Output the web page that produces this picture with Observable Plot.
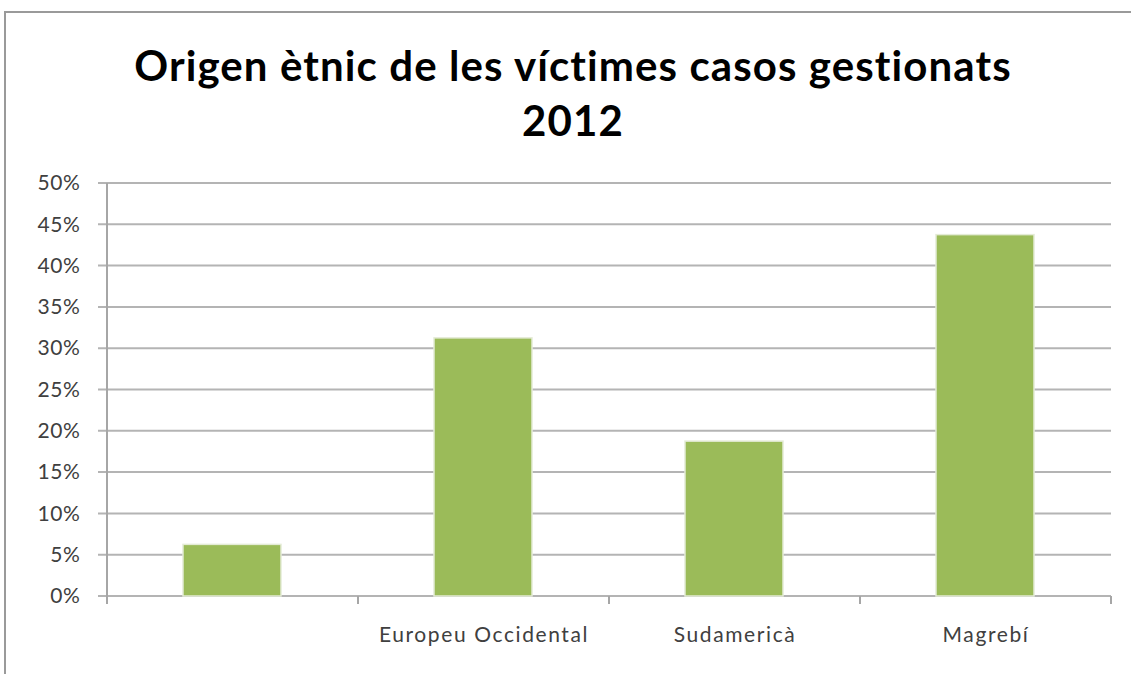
<!DOCTYPE html>
<html>
<head>
<meta charset="utf-8">
<script src="https://cdn.jsdelivr.net/npm/d3@7"></script>
<script src="https://cdn.jsdelivr.net/npm/@observablehq/plot@0.6"></script>
<style>
  html, body { margin: 0; padding: 0; background: #fff; }
  #frame {
    position: relative; width: 1131px; height: 674px; overflow: hidden; background: #fff;
  }
  #border {
    position: absolute; left: 4px; top: 11px; width: 1140px; height: 700px;
    border-left: 2px solid #9a9a9a; border-top: 2px solid #9a9a9a; box-sizing: border-box;
  }
  #title {
    position: absolute; left: 0; top: 38px; width: 1146px; text-align: center;
    font-family: Lato, "Open Sans", sans-serif; font-weight: bold; font-size: 42px;
    letter-spacing: 1.1px; line-height: 55px; color: #000;
  }
  #chart { position: absolute; left: 0; top: 160px; }
</style>
</head>
<body>
<div id="frame">
  <div id="border"></div>
  <div id="title">Origen ètnic de les víctimes casos gestionats<br>2012</div>
  <div id="chart"></div>
</div>
<script>
const categories = ["", "Europeu Occidental", "Sudamericà", "Magrebí"];
const shares = [6.25, 31.25, 18.75, 43.75];
const yTicks = [0, 5, 10, 15, 20, 25, 30, 35, 40, 45, 50];

const data = categories.map((c, i) => ({cat: c, v: shares[i]}));

const W = 1131, H = 514;
const chart = Plot.plot({
  width: W, height: H,
  marginTop: 23, marginBottom: 78, marginLeft: 106, marginRight: 20,
  style: {fontFamily: "Lato, 'Open Sans', sans-serif", background: "transparent"},
  x: {domain: categories, padding: 0, axis: null, label: null},
  y: {domain: [0, 50], axis: null, label: null},
  marks: [
    Plot.barY(data, {x: "cat", y: "v", fill: "#9bbb59", insetLeft: 76, insetRight: 77,
      stroke: "#e4ebd6", strokeWidth: 1.5}),
    Plot.axisY(yTicks, {anchor: "left", label: null, tickSize: 0, tickFormat: d => d + "%",
      fontSize: 21, fill: "#404040", tickPadding: 26}),
    Plot.axisX(categories, {anchor: "bottom", label: null, tickSize: 0, fontSize: 21, fill: "#404040",
      tickPadding: 31})
  ]
});
document.getElementById("chart").appendChild(chart);

const xs = chart.scale("x"), ys = chart.scale("y");
const svg = d3.select(chart);
svg.selectAll("g[aria-label='y-axis tick label'] text").style("letter-spacing", "0.6px");
svg.selectAll("g[aria-label='x-axis tick label'] text").style("letter-spacing", "1.6px");

// Gridlines, axis line and band-boundary ticks positioned through Plot's scales
const x0 = xs.apply(categories[0]);
const bw = xs.bandwidth;
const xEnd = xs.apply(categories[categories.length - 1]) + bw;
const g = svg.insert("g", ":first-child");
yTicks.forEach(t => {
  g.append("line").attr("x1", x0 - 9).attr("x2", xEnd).attr("y1", ys.apply(t)).attr("y2", ys.apply(t))
    .attr("stroke", "#b4b4b4").attr("stroke-width", 2);
});
g.append("line").attr("x1", x0).attr("x2", x0).attr("y1", ys.apply(50)).attr("y2", ys.apply(0) + 8)
  .attr("stroke", "#a6a6a6").attr("stroke-width", 2);
for (let i = 0; i <= categories.length; i++) {
  const xx = x0 + i * bw;
  g.append("line").attr("x1", xx).attr("x2", xx).attr("y1", ys.apply(0)).attr("y2", ys.apply(0) + 8)
    .attr("stroke", "#a6a6a6").attr("stroke-width", 2);
}
</script>
</body>
</html>
